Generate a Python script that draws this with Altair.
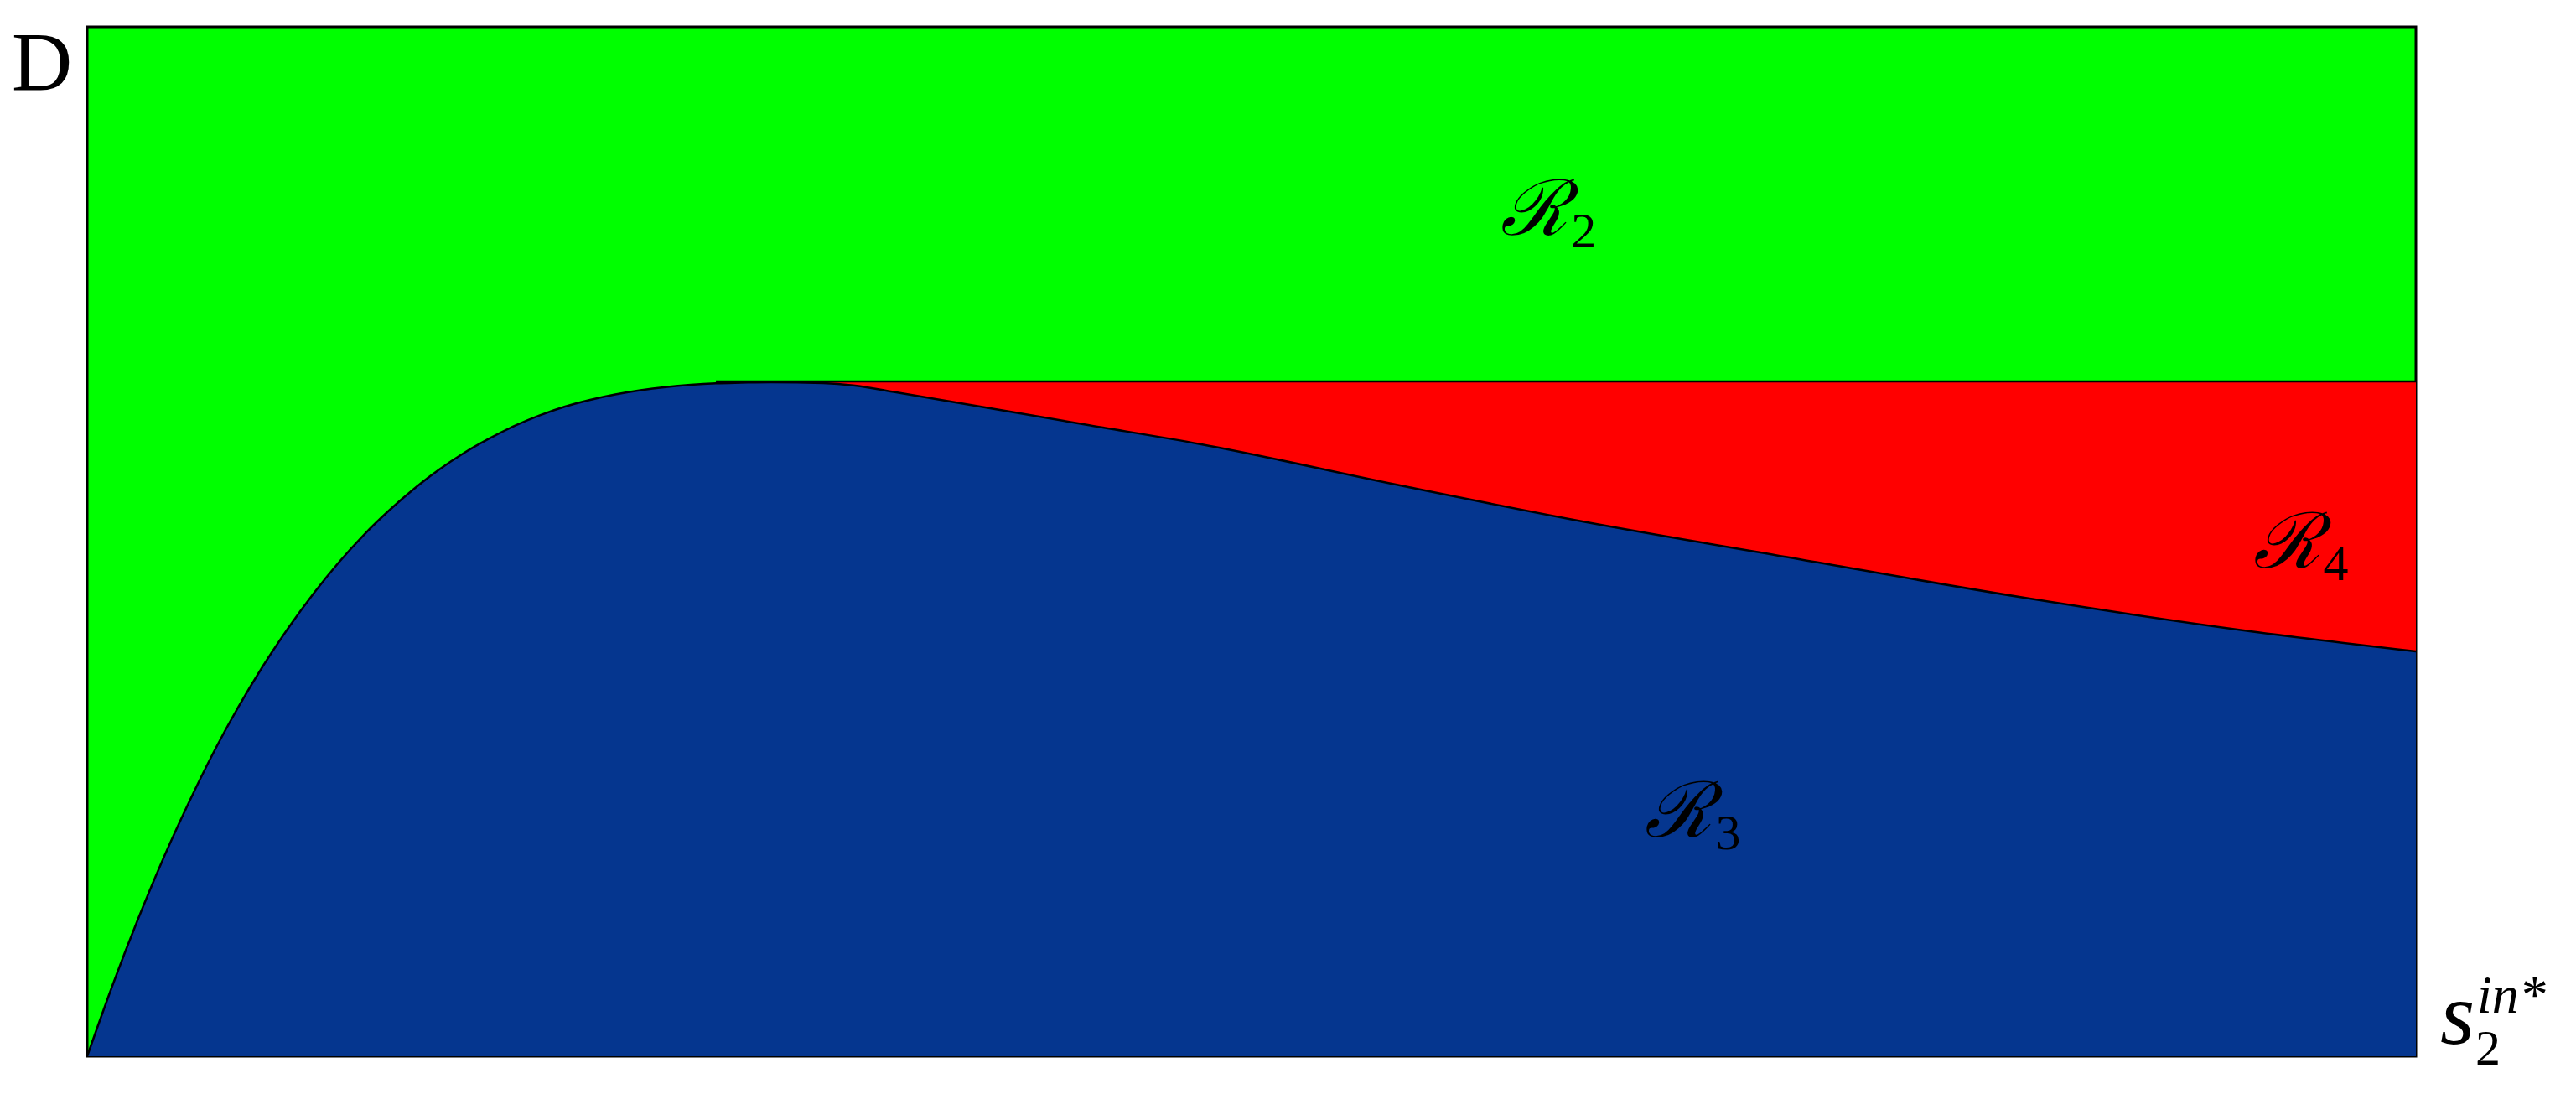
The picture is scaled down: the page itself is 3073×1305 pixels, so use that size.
import altair as alt
import pandas as pd

# boundary between R3 (below) and R2 / R4 (above), normalised axes
curve_x = [0.0, 0.0108, 0.0216, 0.0324, 0.0432, 0.0540, 0.0648, 0.0756, 0.0864,
           0.0972, 0.1080, 0.1188, 0.1296, 0.1404, 0.1512, 0.1620, 0.1728, 0.1836,
           0.1944, 0.2052, 0.2160, 0.2268, 0.2376, 0.2484, 0.2592, 0.2700, 0.2808,
           0.2937, 0.3161, 0.3297, 0.3474, 0.4298, 0.4784, 0.5655, 0.6382, 0.7351,
           0.8319, 0.9287, 1.0]
curve_y = [0.0, 0.0684, 0.1319, 0.1906, 0.2443, 0.2940, 0.3388, 0.3795, 0.4161,
           0.4495, 0.4796, 0.5065, 0.5301, 0.5513, 0.5700, 0.5863, 0.6002, 0.6124,
           0.6226, 0.6311, 0.6376, 0.6429, 0.6470, 0.6501, 0.6523, 0.6537, 0.6543,
           0.6548, 0.6539, 0.6515, 0.6450, 0.6132, 0.5945, 0.5537, 0.5212, 0.4829,
           0.4454, 0.4129, 0.3933]
line_level = 0.6555          # horizontal boundary between R2 and R4
peak_x = 0.2700              # where R4 begins

region_names = ["2", "3", "4"]
region_x = [0.607, 0.669, 0.930]
region_y = [0.798, 0.213, 0.475]

GREEN = "#00FF00"
RED = "#FF0000"
BLUE = "#05368F"

curve = pd.DataFrame({"x": curve_x, "y": curve_y})
red_part = curve[curve["x"] >= peak_x].copy()
red_part["top"] = line_level
hline = pd.DataFrame({"x": [peak_x], "x2": [1.0], "y": [line_level]})
labels = pd.DataFrame({"x": region_x, "y": region_y, "sub": region_names,
                       "main": ["\u211b"] * 3})

xs = alt.Scale(domain=[0, 1], nice=False, zero=False)
ys = alt.Scale(domain=[0, 1], nice=False, zero=False)
X = alt.X("x:Q", scale=xs, axis=None)
Y = alt.Y("y:Q", scale=ys, axis=None)

red = alt.Chart(red_part).mark_area(color=RED, interpolate="monotone").encode(
    x=X, y=Y, y2="top:Q")
blue = alt.Chart(curve).mark_area(color=BLUE, interpolate="monotone").encode(
    x=X, y=Y, y2=alt.datum(0))
edge = alt.Chart(curve).mark_line(color="black", strokeWidth=2.5, interpolate="monotone").encode(
    x=X, y=Y)
rule = alt.Chart(hline).mark_rule(color="black", strokeWidth=2.5).encode(
    x=X, x2="x2:Q", y=Y)

main_txt = alt.Chart(labels).mark_text(
    align="left", baseline="alphabetic", font="DejaVu Serif", fontSize=92,
    fontStyle="italic", color="black").encode(x=X, y=Y, text="main:N")
sub_txt = alt.Chart(labels).mark_text(
    align="left", baseline="alphabetic", font="Liberation Serif", fontSize=60,
    dx=84, dy=15, color="black").encode(x=X, y=Y, text="sub:N")

# axis names
axis_lab = pd.DataFrame({
    "x": [-0.0194, 1.0104, 1.0256, 1.0263],
    "y": [0.939, 0.0122, -0.0081, 0.0420],
    "t": ["D", "s", "2", "in*"],
    "kind": ["D", "s", "sub", "sup"],
})
d_lab = alt.Chart(axis_lab[axis_lab.kind == "D"]).mark_text(
    align="center", baseline="alphabetic", font="Liberation Serif", fontSize=100,
    color="black").encode(x=X, y=Y, text="t:N")
s_lab = alt.Chart(axis_lab[axis_lab.kind == "s"]).mark_text(
    align="left", baseline="alphabetic", font="Liberation Serif", fontSize=106,
    fontStyle="italic", color="black").encode(x=X, y=Y, text="t:N")
sub_lab = alt.Chart(axis_lab[axis_lab.kind == "sub"]).mark_text(
    align="left", baseline="alphabetic", font="Liberation Serif", fontSize=60,
    color="black").encode(x=X, y=Y, text="t:N")
sup_lab = alt.Chart(axis_lab[axis_lab.kind == "sup"]).mark_text(
    align="left", baseline="alphabetic", font="Liberation Serif", fontSize=64,
    fontStyle="italic", color="black").encode(x=X, y=Y, text="t:N")

chart = alt.layer(red, blue, edge, rule, main_txt, sub_txt,
                  d_lab, s_lab, sub_lab, sup_lab).properties(
    width=2778, height=1228,
    autosize=alt.AutoSizeParams(type="none"),
    padding={"left": 96, "top": 24, "right": 182, "bottom": 30},
    background="white",
).configure_view(fill=GREEN, stroke="black", strokeWidth=3)

chart.save("out.html", embed_options={"renderer": "svg", "actions": False})
